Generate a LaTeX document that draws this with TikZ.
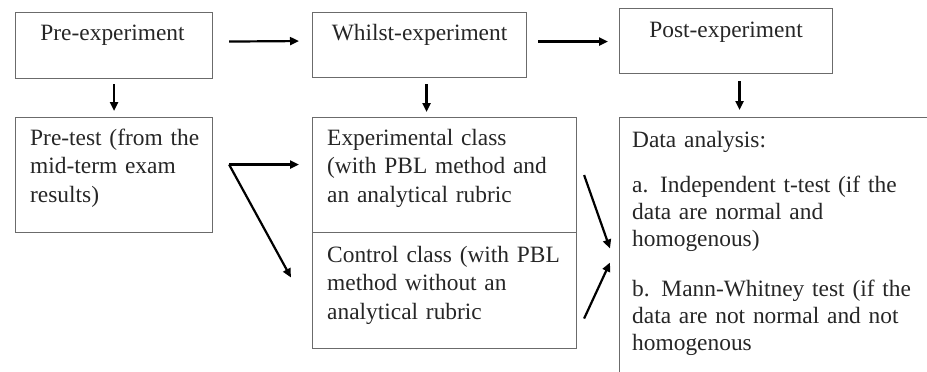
\documentclass[tikz,border=0pt]{standalone}
\usepackage{fontspec}
\setmainfont{Liberation Serif}
\usepackage{tikz}
\usetikzlibrary{positioning,calc,arrows.meta}
\definecolor{boxgray}{gray}{0.42}
\definecolor{txtgray}{gray}{0.15}
\newcommand{\fstrut}{\rule{0pt}{18pt}}

\begin{document}
\begin{tikzpicture}[x=1pt,y=-1pt,
  frame/.style={draw=boxgray,line width=1.1pt,anchor=north west,inner sep=0pt},
  title/.style={anchor=base,inner sep=0pt,text=txtgray,font=\fontsize{23.4}{28.5}\selectfont},
  body/.style={anchor=north west,inner sep=0pt,align=left,text width=300pt,text=txtgray,font=\fontsize{23.4}{28.5}\selectfont},
  arr/.style={-{Triangle[length=9pt,width=8pt]},line width=2.2pt}]
  \useasboundingbox (0,0) rectangle (927,372);
  \clip (0,0) rectangle (927,372);
  % top row: the three stages
  \node[frame,minimum width=197pt,minimum height=66pt] (pre) at (15,12) {};
  \node[frame,minimum width=214pt,minimum height=65pt] (whilst) at (312,12) {};
  \node[frame,minimum width=213pt,minimum height=65pt] (post) at (619,8) {};
  \node[title] (pretitle) at ($(pre.north)+(-1.5,28)$) {Pre-experiment};
  \node[title] (whilsttitle) at ($(whilst.north)+(0,28)$) {Whilst-experiment};
  \node[title] (posttitle) at ($(post.north)+(0,29)$) {Post-experiment};
  % bottom row
  \node[frame,minimum width=197pt,minimum height=115pt] (pretest) at (15,117) {};
  \node[frame,minimum width=264pt,minimum height=115pt] (exper) at (312,117) {};
  \node[frame,minimum width=264pt,minimum height=116pt] (control) at (312,232) {};
  \node[frame,minimum width=321pt,minimum height=273pt] (data) at (619,117) {};
  \node[body] (pretesttxt) at ($(pretest.north west)+(15,10)$)
    {\fstrut Pre-test (from the\\ mid-term exam\\ results)};
  \node[body] (expertxt) at ($(exper.north west)+(15,10)$)
    {\fstrut Experimental class\\ (with PBL method and\\ an analytical rubric};
  \node[body] (controltxt) at ($(control.north west)+(15,12)$)
    {\fstrut Control class (with PBL\\ method without an\\ analytical rubric};
  \node[body,font=\fontsize{23.4}{27}\selectfont] (datatxt) at ($(data.north west)+(13,12)$)
    {\fstrut Data analysis:\\[18pt] a. Independent t-test (if the\\ data are normal and\\ homogenous)\\[23pt]
     b. Mann-Whitney test (if the\\ data are not normal and not\\ homogenous};
  % arrows
  \draw[arr] ([xshift=16pt,yshift=4pt]pre.east) -- ([xshift=-13pt,yshift=4pt]whilst.west);
  \draw[arr] ([xshift=11pt,yshift=3.5pt]whilst.east) -- ([xshift=-11pt,yshift=-0.5pt]post.west);
  \draw[arr] ([yshift=-5pt]pre.south) -- ([yshift=6pt]pre.south |- pretest.north);
  \draw[arr] ([xshift=7pt,yshift=-6pt]whilst.south) -- ([xshift=7pt,yshift=5pt]whilst.south |- exper.north);
  \draw[arr] ([xshift=13.5pt,yshift=-7pt]post.south) -- ([xshift=13.5pt,yshift=7pt]post.south |- data.north);
  \coordinate (fork) at ([xshift=16pt,yshift=10.5pt]pretest.east);
  \draw[arr] (fork) -- ([xshift=-13pt,yshift=10.5pt]exper.west);
  \draw[arr] (fork) -- ([xshift=-21pt,yshift=13pt]control.west);
  \draw[arr] ([xshift=7pt]exper.east) -- ([xshift=-9pt,yshift=5.5pt]data.west);
  \draw[arr] ([xshift=7pt,yshift=-28pt]control.east) -- ([xshift=-9pt,yshift=-8.5pt]data.west);
\end{tikzpicture}
\end{document}
